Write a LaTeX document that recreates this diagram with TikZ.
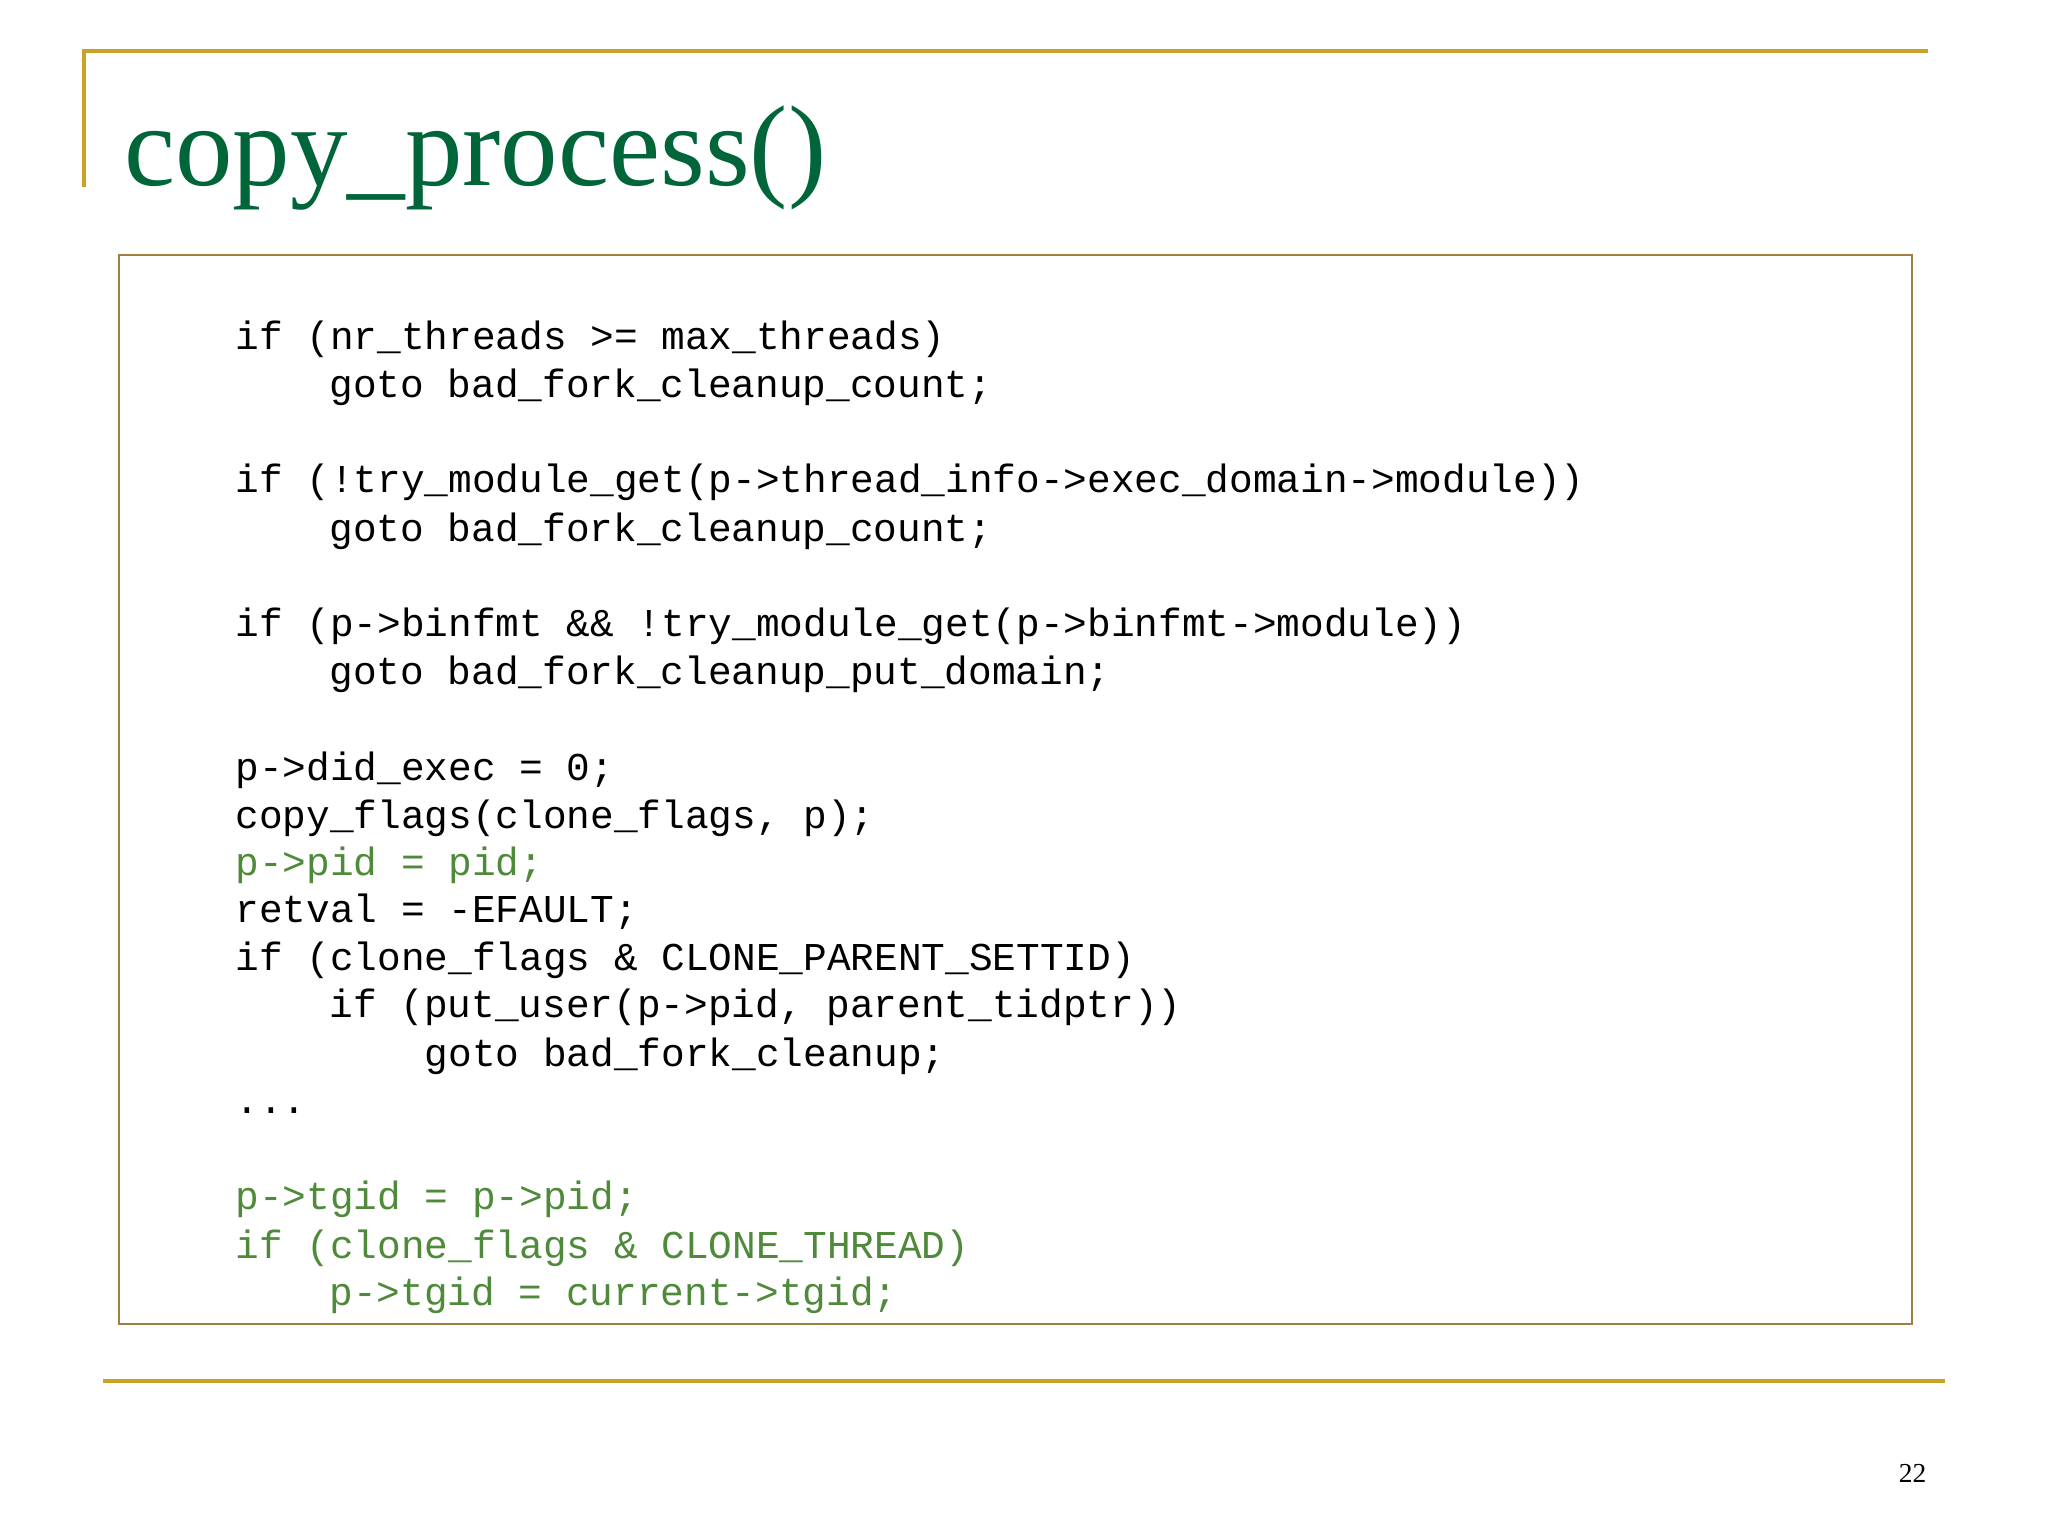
\documentclass[tikz,border=0pt]{standalone}
\usepackage{fontspec}
\setmainfont{Liberation Serif}
\setmonofont{Liberation Mono}
\definecolor{gold}{HTML}{C9A227}
\definecolor{boxc}{HTML}{A08040}
\definecolor{titleg}{HTML}{00663A}
\definecolor{codeg}{HTML}{4E8A3A}
\begin{document}
\begin{tikzpicture}[x=1pt,y=-1pt,
  code/.style={anchor=mid west,inner sep=0pt,font=\ttfamily\fontsize{30.2}{30}\selectfont},
  gcode/.style={code,text=codeg}]
\useasboundingbox (0,0) rectangle (1568,1176);
\fill[white] (0,0) rectangle (1568,1176);
\draw[gold,line width=3] (64,143) -- (64,39) -- (1476,39);
\draw[gold,line width=3] (79,1057) -- (1489,1057);
\node[anchor=base west,inner sep=0pt,text=titleg,font=\fontsize{88}{88}\selectfont] (title) at (95,142) {copy\_process()};
\draw[boxc,line width=1.5] (91,195) rectangle (1464,1014);
\begin{scope}[yshift=-7pt]
\node[code] (l1) at (180,258) {if (nr\_threads >= max\_threads)};
\node[code] (l2) at (252,295) {goto bad\_fork\_cleanup\_count;};
\node[code] (l3) at (180,368) {if (!try\_module\_get(p->thread\_info->exec\_domain->module))};
\node[code] (l4) at (252,405) {goto bad\_fork\_cleanup\_count;};
\node[code] (l5) at (180,478) {if (p->binfmt \&\& !try\_module\_get(p->binfmt->module))};
\node[code] (l6) at (252,515) {goto bad\_fork\_cleanup\_put\_domain;};
\node[code] (l7) at (180,588) {p->did\_exec = 0;};
\node[code] (l8) at (180,625) {copy\_flags(clone\_flags, p);};
\node[gcode] (l9) at (180,661) {p->pid = pid;};
\node[code] (l10) at (180,697) {retval = -EFAULT;};
\node[code] (l11) at (180,734) {if (clone\_flags \& CLONE\_PARENT\_SETTID)};
\node[code] (l12) at (252,770) {if (put\_user(p->pid, parent\_tidptr))};
\node[code] (l13) at (325,807) {goto bad\_fork\_cleanup;};
\node[code] (l14) at (180,843) {...};
\node[gcode] (l15) at (180,917) {p->tgid = p->pid;};
\node[gcode] (l16) at (180,954) {if (clone\_flags \& CLONE\_THREAD)};
\node[gcode] (l17) at (252,990) {p->tgid = current->tgid;};
\end{scope}
\node[anchor=base east,inner sep=0pt,font=\fontsize{21}{21}\selectfont] (pg) at (1475,1135) {22};
\end{tikzpicture}
\end{document}
